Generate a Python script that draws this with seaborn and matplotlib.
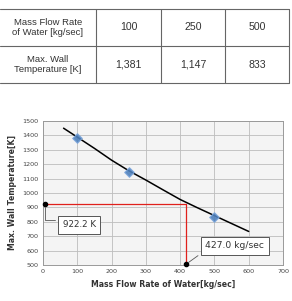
import matplotlib
matplotlib.use("Agg")
import matplotlib.pyplot as plt
import seaborn as sns
import pandas as pd

# ---- data ----
table_rows = ["Mass Flow Rate\nof Water [kg/sec]", "Max. Wall\nTemperature [K]"]
flow_rates = [100, 250, 500]
flow_labels = ["100", "250", "500"]
max_temps = [1381, 1147, 833]
temp_labels = ["1,381", "1,147", "833"]

curve_x = [60, 100, 150, 200, 250, 300, 350, 400, 450, 500, 550, 600]
curve_y = [1450, 1388, 1310, 1228, 1155, 1090, 1022, 955, 898, 843, 788, 733]

target_temp = 922.2
target_flow = 427.0
temp_label = "922.2 K"
flow_label = "427.0 kg/sec"

x_ticks = [0, 100, 200, 300, 400, 500, 600, 700]
y_ticks = [500, 600, 700, 800, 900, 1000, 1100, 1200, 1300, 1400, 1500]

sns.set_theme(style="whitegrid")
plt.rcParams['font.family'] = ['DejaVu Sans']

W, H = 292, 301
fig = plt.figure(figsize=(W / 100, H / 100), dpi=100)
fig.patch.set_facecolor("white")

# ---- table (overlay axes in pixel coords) ----
tab = fig.add_axes([0, 0, 1, 1])
tab.set_xlim(0, W)
tab.set_ylim(H, 0)
tab.axis("off")
col_edges = [0, 96, 161, 225, 289]
row_edges = [9, 46, 83]
lc = "#666666"
for y in row_edges:
    tab.plot([col_edges[0], col_edges[-1]], [y, y], color=lc, lw=0.8)
for x in col_edges[1:]:
    tab.plot([x, x], [row_edges[0], row_edges[-1]], color=lc, lw=0.8)
rows_vals = [flow_labels, temp_labels]
for r in range(2):
    yc = (row_edges[r] + row_edges[r + 1]) / 2
    tab.text((col_edges[0] + col_edges[1]) / 2, yc, table_rows[r], ha="center",
             va="center", fontsize=6.8, color="#333333", linespacing=1.25,
             family="Liberation Sans")
    for c in range(3):
        tab.text((col_edges[c + 1] + col_edges[c + 2]) / 2, yc, rows_vals[r][c],
                 ha="center", va="center", fontsize=7.6, color="#333333",
                 family="Liberation Sans")

# ---- chart ----
ax = fig.add_axes([43 / W, (H - 265) / H, 240 / W, 144 / H])
ax.set_facecolor("#f4f4f4")
ax.set_xlim(0, 700)
ax.set_ylim(500, 1500)
ax.set_xticks(x_ticks)
ax.set_yticks(y_ticks)
ax.grid(True, color="#bdbdbd", lw=0.6)
for s in ax.spines.values():
    s.set_color("#999999")
    s.set_linewidth(0.7)
ax.tick_params(axis="both", labelsize=4.6, labelcolor="#444444", length=0, pad=3)

df_curve = pd.DataFrame({"x": curve_x, "y": curve_y})
sns.lineplot(data=df_curve, x="x", y="y", ax=ax, color="black", lw=1.1, zorder=3)
df_pts = pd.DataFrame({"x": flow_rates, "y": max_temps})
sns.scatterplot(data=df_pts, x="x", y="y", ax=ax, color="#4f81bd", marker="D",
                s=24, edgecolor="#7fa8dc", linewidth=0.8, zorder=4, alpha=0.9)

vx = target_flow - 10
ax.plot([5, vx], [target_temp, target_temp], color="#e0201c", lw=0.9, zorder=2)
ax.plot([vx, vx], [500, target_temp], color="#e0201c", lw=0.9, zorder=2)
ax.plot([5], [target_temp], "o", color="black", ms=3, zorder=5, clip_on=False)
ax.plot([vx], [505], "o", color="black", ms=3, zorder=5, clip_on=False)

bbox = dict(boxstyle="square,pad=0.5", fc="white", ec="#555555", lw=0.7)
ax.annotate(temp_label, xy=(5, target_temp), xytext=(57, 780), fontsize=6.3,
            color="#333333", ha="left", va="center", bbox=bbox,
            arrowprops=dict(arrowstyle="-", color="#555555", lw=0.6,
                            connectionstyle="angle,angleA=0,angleB=90,rad=0",
                            relpos=(0, 1)), zorder=6)
ax.annotate(flow_label, xy=(vx, 505), xytext=(473, 632), fontsize=6.6,
            color="#333333", ha="left", va="center", bbox=bbox,
            arrowprops=dict(arrowstyle="-", color="#555555", lw=0.6, relpos=(0, 0)),
            zorder=6)

ax.set_xlabel("Mass Flow Rate of Water[kg/sec]", fontsize=5.6, fontweight="bold",
              color="#333333", labelpad=4)
ax.set_ylabel("Max. Wall Temperature[K]", fontsize=5.6, fontweight="bold",
              color="#333333", labelpad=4)

fig.savefig("out.png", dpi=100)
